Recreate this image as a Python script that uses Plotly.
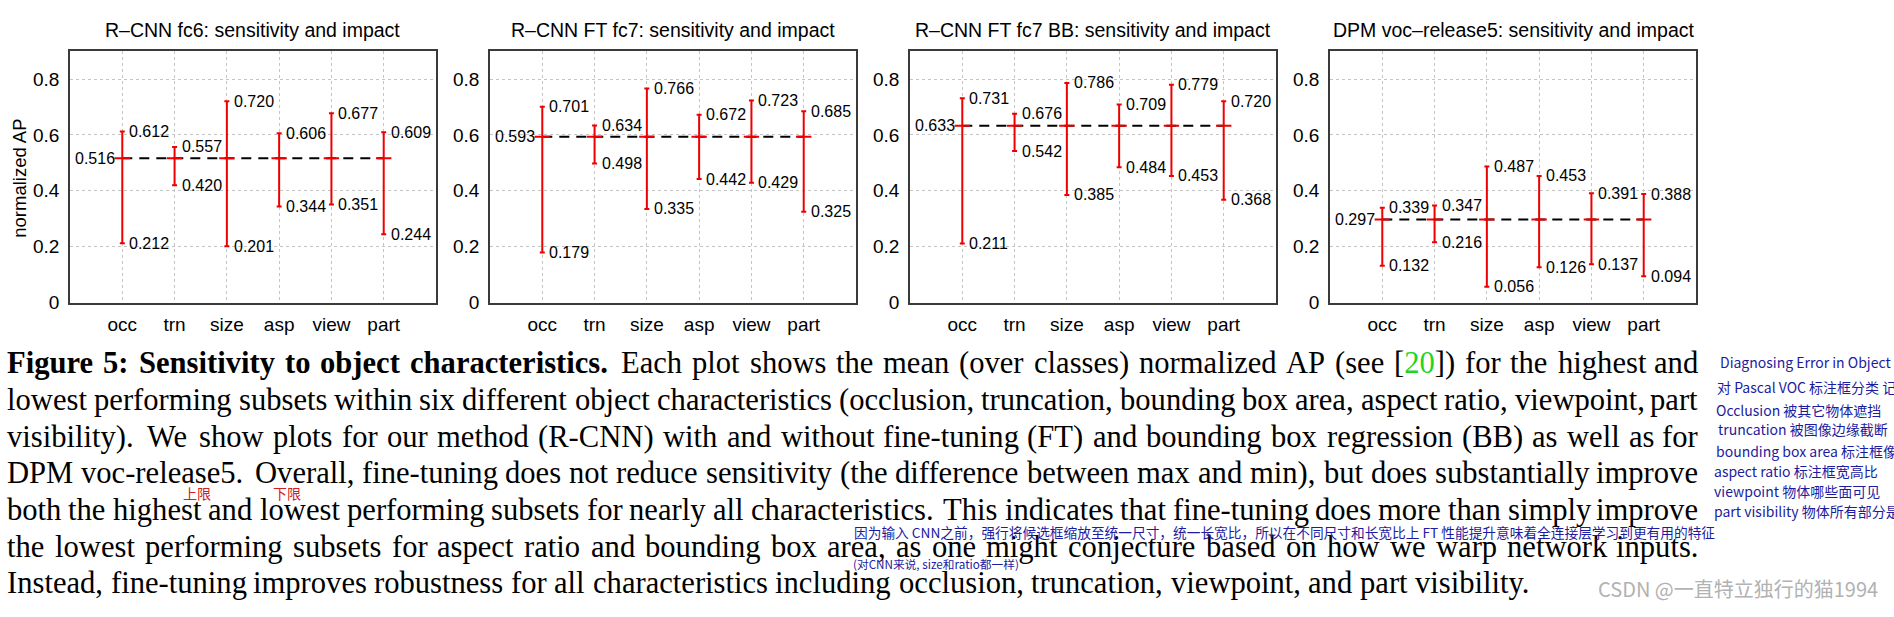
import plotly.graph_objects as go

W, H = 1894, 617

# ---------------- data ----------------
categories = ["occ", "trn", "size", "asp", "view", "part"]
panel_titles = [
    "R–CNN fc6: sensitivity and impact",
    "R–CNN FT fc7: sensitivity and impact",
    "R–CNN FT fc7 BB: sensitivity and impact",
    "DPM voc–release5: sensitivity and impact",
]
fc6_max = [0.612, 0.557, 0.720, 0.606, 0.677, 0.609]
fc6_min = [0.212, 0.420, 0.201, 0.344, 0.351, 0.244]
fc6_mean = 0.516
ftfc7_max = [0.701, 0.634, 0.766, 0.672, 0.723, 0.685]
ftfc7_min = [0.179, 0.498, 0.335, 0.442, 0.429, 0.325]
ftfc7_mean = 0.593
ftbb_max = [0.731, 0.676, 0.786, 0.709, 0.779, 0.720]
ftbb_min = [0.211, 0.542, 0.385, 0.484, 0.453, 0.368]
ftbb_mean = 0.633
dpm_max = [0.339, 0.347, 0.487, 0.453, 0.391, 0.388]
dpm_min = [0.132, 0.216, 0.056, 0.126, 0.137, 0.094]
dpm_mean = 0.297
y_tick_vals = [0, 0.2, 0.4, 0.6, 0.8]
y_tick_text = ["0", "0.2", "0.4", "0.6", "0.8"]
y_title = "normalized AP"

caption_lines = [
    "Figure 5: Sensitivity to object characteristics. Each plot shows the mean (over classes) normalized AP (see [20]) for the highest and",
    "lowest performing subsets within six different object characteristics (occlusion, truncation, bounding box area, aspect ratio, viewpoint, part",
    "visibility). We show plots for our method (R-CNN) with and without fine-tuning (FT) and bounding box regression (BB) as well as for",
    "DPM voc-release5. Overall, fine-tuning does not reduce sensitivity (the difference between max and min), but does substantially improve",
    "both the highest and lowest performing subsets for nearly all characteristics. This indicates that fine-tuning does more than simply improve",
    "the lowest performing subsets for aspect ratio and bounding box area, as one might conjecture based on how we warp network inputs.",
    "Instead, fine-tuning improves robustness for all characteristics including occlusion, truncation, viewpoint, and part visibility.",
]
bold_words_line1 = 6

side_notes = [
    "Diagnosing Error in Object Detec",
    "对 Pascal VOC 标注框分类 记录",
    "Occlusion 被其它物体遮挡",
    "truncation 被图像边缘截断",
    "bounding box area 标注框像素数量",
    "aspect ratio 标注框宽高比",
    "viewpoint 物体哪些面可见",
    "part visibility 物体所有部分是否都可",
]
inline_note_1 = "因为输入 CNN之前，强行将候选框缩放至统一尺寸，统一长宽比，所以在不同尺寸和长宽比上 FT 性能提升意味着全连接层学习到更有用的特征"
inline_note_2 = "(对CNN来说, size和ratio都一样)"
watermark = "CSDN @一直特立独行的猫1994"

panels = [
    (fc6_max, fc6_min, fc6_mean),
    (ftfc7_max, ftfc7_min, ftfc7_mean),
    (ftbb_max, ftbb_min, ftbb_mean),
    (dpm_max, dpm_min, dpm_mean),
]

# ---------------- helpers ----------------
SANS = "Liberation Sans, Arial, sans-serif"
SERIF = "Liberation Serif, Times New Roman, serif"
CJK = "Noto Sans CJK SC, sans-serif"
RED = "#ee0000"


def fx(p):
    return p / W


def fy(p):
    return 1 - p / H


fig = go.Figure()
annotations = []
layout_axes = {}

PLOT_L0, PLOT_W, PLOT_PITCH = 70, 366, 420
PLOT_T, PLOT_B = 52, 308

for i, (mx, mn, m) in enumerate(panels):
    k = i + 1
    xa = "x" if k == 1 else f"x{k}"
    ya = "y" if k == 1 else f"y{k}"
    left = PLOT_L0 + i * PLOT_PITCH
    right = left + PLOT_W

    fig.add_trace(go.Scatter(
        x=[categories[0], categories[-1]], y=[m, m], mode="lines",
        line=dict(color="black", width=2, dash="10px,7px"),
        xaxis=xa, yaxis=ya, showlegend=False, hoverinfo="skip"))
    fig.add_trace(go.Scatter(
        x=categories, y=[m] * len(categories), mode="markers",
        marker=dict(symbol="line-ew", size=11, color=RED, line=dict(color=RED, width=2)),
        error_y=dict(type="data", symmetric=False,
                     array=[a - m for a in mx], arrayminus=[m - b for b in mn],
                     color=RED, thickness=2, width=2.5),
        xaxis=xa, yaxis=ya, showlegend=False))

    layout_axes["xaxis" if k == 1 else f"xaxis{k}"] = dict(
        domain=[fx(left), fx(right)], range=[-1, 6], type="category",
        categoryorder="array", categoryarray=categories, anchor=ya,
        showgrid=True, gridcolor="#c4c4c4", griddash="dot", gridwidth=1,
        showline=True, mirror=True, linecolor="#3a3a3a", linewidth=1.5,
        ticks="", ticklabelstandoff=4,
        tickfont=dict(family=SANS, size=19, color="black"),
        zeroline=False, fixedrange=True)
    layout_axes["yaxis" if k == 1 else f"yaxis{k}"] = dict(
        domain=[fy(PLOT_B), fy(PLOT_T)], range=[0, 0.9], anchor=xa,
        tickmode="array", tickvals=y_tick_vals, ticktext=y_tick_text,
        showgrid=True, gridcolor="#c4c4c4", griddash="dot", gridwidth=1,
        showline=True, mirror=True, linecolor="#3a3a3a", linewidth=1.5,
        ticks="", ticklabelstandoff=5,
        tickfont=dict(family=SANS, size=19, color="black"),
        zeroline=False, fixedrange=True)

    for j, cat in enumerate(categories):
        for v in (mx[j], mn[j]):
            annotations.append(dict(
                x=cat, y=v, xref=xa, yref=ya, text=f"{v:.3f}",
                xanchor="left", xshift=6, yanchor="middle", showarrow=False,
                borderpad=0, font=dict(family=SANS, size=16, color="black")))
    annotations.append(dict(
        x=categories[0], y=m, xref=xa, yref=ya, text=f"{m:.3f}",
        xanchor="right", xshift=-6, yanchor="middle", showarrow=False,
        borderpad=0, font=dict(family=SANS, size=16, color="black")))

    annotations.append(dict(
        x=fx((left + right) / 2), y=fy(31), xref="paper", yref="paper",
        text=panel_titles[i], xanchor="center", yanchor="middle",
        showarrow=False, borderpad=0,
        font=dict(family=SANS, size=19.5, color="black")))

annotations.append(dict(
    x=fx(20), y=fy(182), xref="paper", yref="paper", text=y_title,
    textangle=-90, xanchor="center", yanchor="middle", showarrow=False,
    borderpad=0, font=dict(family=SANS, size=18.5, color="black")))

# ---------------- caption (justified, word by word) ----------------
REG = {' ': 250, '(': 333, ')': 333, ',': 250, '-': 333, '.': 250, ':': 278,
       ';': 278, '[': 333, ']': 333,
       'A': 722, 'B': 667, 'C': 667, 'D': 722, 'E': 611, 'F': 556, 'G': 722,
       'H': 722, 'I': 333, 'J': 389, 'K': 722, 'L': 611, 'M': 889, 'N': 722,
       'O': 722, 'P': 556, 'Q': 722, 'R': 667, 'S': 556, 'T': 611, 'U': 722,
       'V': 722, 'W': 944, 'X': 722, 'Y': 722, 'Z': 611,
       'a': 444, 'b': 500, 'c': 444, 'd': 500, 'e': 444, 'f': 333, 'g': 500,
       'h': 500, 'i': 278, 'j': 278, 'k': 500, 'l': 278, 'm': 778, 'n': 500,
       'o': 500, 'p': 500, 'q': 500, 'r': 333, 's': 389, 't': 278, 'u': 500,
       'v': 500, 'w': 722, 'x': 500, 'y': 500, 'z': 444}
BOLD = {' ': 250, '.': 250, ',': 250, ':': 333, '-': 333,
        'A': 722, 'B': 667, 'C': 722, 'D': 722, 'E': 667, 'F': 611, 'G': 778,
        'H': 778, 'I': 389, 'S': 556, 'T': 667,
        'a': 500, 'b': 556, 'c': 444, 'd': 556, 'e': 444, 'f': 333, 'g': 500,
        'h': 556, 'i': 278, 'j': 333, 'k': 556, 'l': 278, 'm': 833, 'n': 556,
        'o': 500, 'p': 556, 'q': 556, 'r': 444, 's': 389, 't': 333, 'u': 556,
        'v': 500, 'w': 722, 'x': 500, 'y': 500, 'z': 444}

CAP_SIZE = 30.6
CAP_X0, CAP_X1 = 6, 1699
CAP_BASELINES = [380, 418, 455, 492, 530, 567, 604]


def word_width(w, bold):
    tbl = BOLD if bold else REG
    s = sum(tbl.get(c, 500) for c in w)
    s -= 55 * w.count("fi")
    return s / 1000.0 * CAP_SIZE


for li, line in enumerate(caption_lines):
    words = line.split(" ")
    bolds = [(li == 0 and wi < bold_words_line1) for wi in range(len(words))]
    widths = [word_width(w, b) for w, b in zip(words, bolds)]
    weights = [1.4 if words[g].endswith(".") else 1.0 for g in range(len(words) - 1)]
    justified = li < len(caption_lines) - 1
    if justified:
        unit = ((CAP_X1 - CAP_X0) - sum(widths)) / sum(weights)
    else:
        unit = 0.25 * CAP_SIZE
    xpos = CAP_X0
    cy = CAP_BASELINES[li] - 0.3375 * CAP_SIZE
    for wi, w in enumerate(words):
        txt = w
        if w == "[20])":
            txt = "[<span style='color:#1fd51f'>20</span>])"
        if bolds[wi]:
            txt = f"<b>{txt}</b>"
        last = justified and wi == len(words) - 1
        annotations.append(dict(
            x=fx(CAP_X1 if last else xpos), y=fy(cy), xref="paper", yref="paper",
            text=txt, xanchor="right" if last else "left", yanchor="middle",
            showarrow=False, borderpad=0,
            font=dict(family=SERIF, size=CAP_SIZE, color="black")))
        if wi < len(words) - 1:
            xpos += widths[wi] + unit * weights[wi]

# ---------------- handwritten notes ----------------
BLUE = "#1c1ca0"
note_pos = [(1719, 369), (1716, 394), (1715, 417), (1717, 437),
            (1715, 459), (1713, 480), (1713, 500), (1713, 520)]
for txt, (px, py) in zip(side_notes, note_pos):
    annotations.append(dict(
        x=fx(px), y=fy(py), xref="paper", yref="paper", text=txt,
        xanchor="left", yanchor="middle", showarrow=False, borderpad=0,
        font=dict(family=CJK, size=14, color=BLUE)))

annotations.append(dict(
    x=fx(853), y=fy(542), xref="paper", yref="paper", text=inline_note_1,
    xanchor="left", yanchor="middle", showarrow=False, borderpad=0,
    font=dict(family=CJK, size=13.7, color=BLUE)))
annotations.append(dict(
    x=fx(852), y=fy(574), xref="paper", yref="paper", text=inline_note_2,
    xanchor="left", yanchor="middle", showarrow=False, borderpad=0,
    font=dict(family=CJK, size=11.7, color=BLUE)))

for txt, px in (("上限", 197), ("下限", 287)):
    annotations.append(dict(
        x=fx(px), y=fy(502), xref="paper", yref="paper", text=txt,
        xanchor="center", yanchor="middle", showarrow=False, borderpad=0,
        font=dict(family=CJK, size=14, color="#d02020")))

annotations.append(dict(
    x=fx(1738), y=fy(599), xref="paper", yref="paper", text=watermark,
    xanchor="center", yanchor="middle", showarrow=False, borderpad=0,
    font=dict(family=CJK, size=20, color="#b2b2b2")))

fig.update_layout(
    width=W, height=H, margin=dict(l=0, r=0, t=0, b=0),
    paper_bgcolor="white", plot_bgcolor="white",
    showlegend=False, annotations=annotations, **layout_axes)

fig.write_html("out.html", config={"displayModeBar": False},
               post_script="document.body.style.margin='0';")
